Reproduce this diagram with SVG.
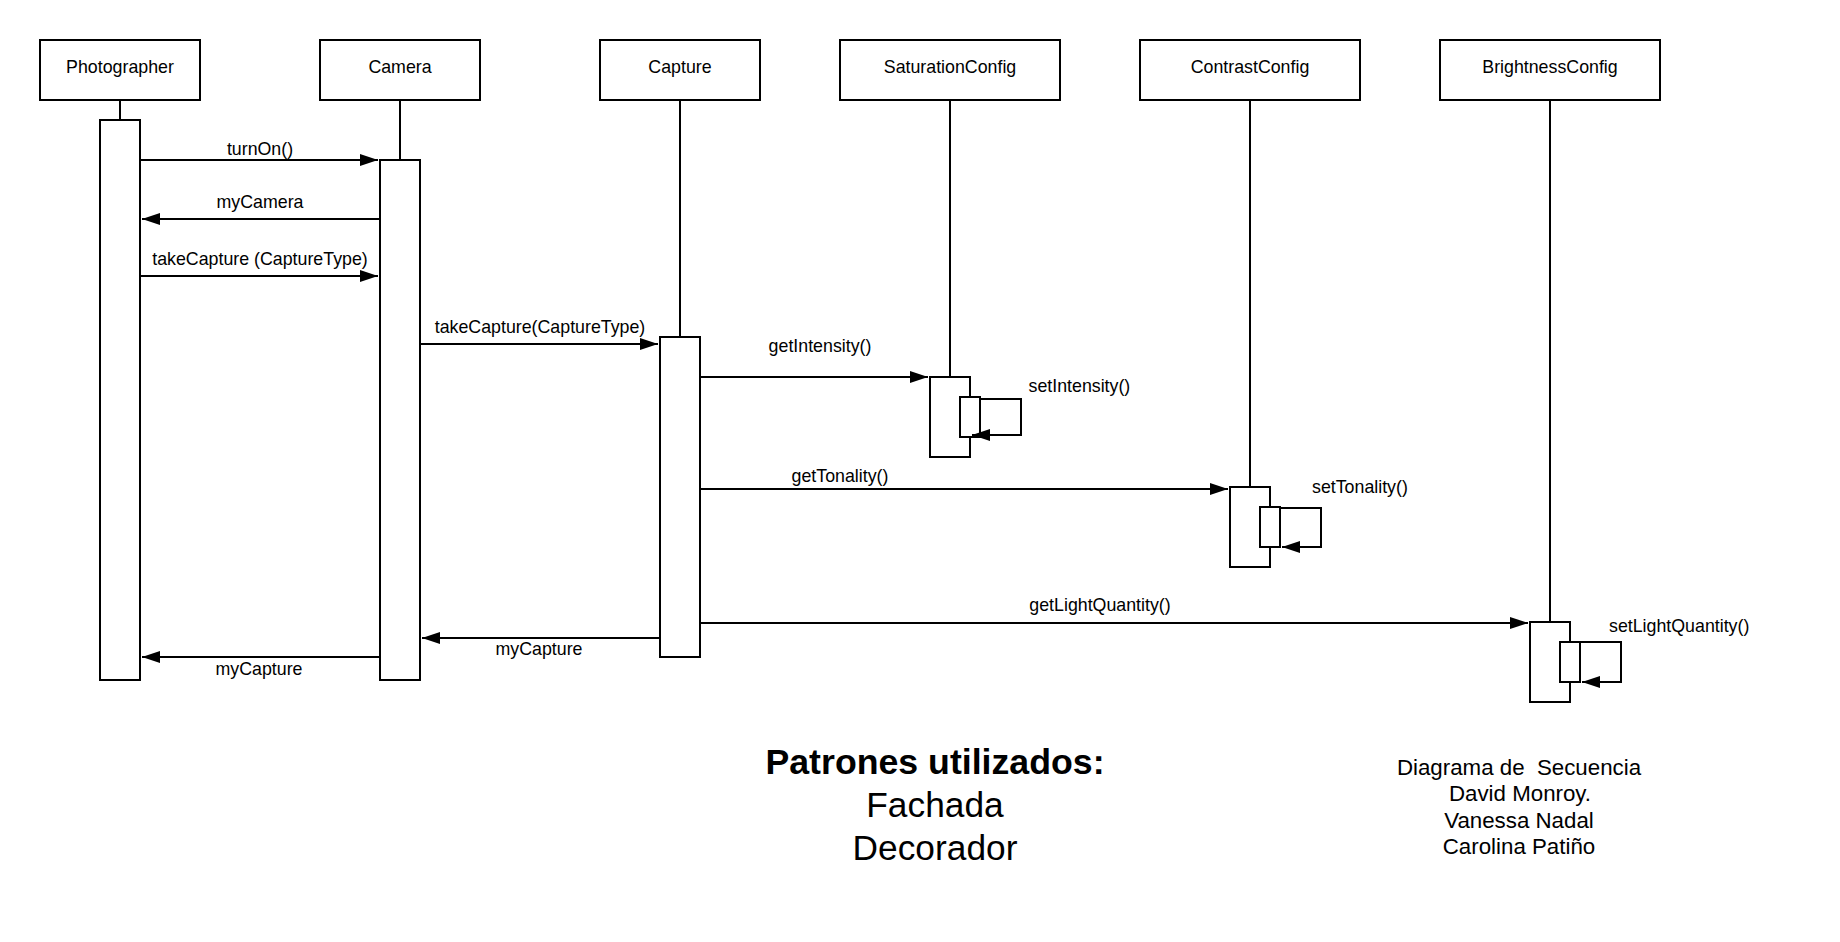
<svg xmlns="http://www.w3.org/2000/svg" width="1840" height="942" viewBox="0 0 1840 942">
<style>
.box{fill:#fff;stroke:#000;stroke-width:2}
.act{fill:#fff;stroke:#000;stroke-width:2}
.life{stroke:#000;stroke-width:2;fill:none}
.msg{stroke:#000;stroke-width:2;fill:none;marker-end:url(#arr)}
.t{font-family:"Liberation Sans",Arial,sans-serif;font-size:17.8px;fill:#000}
.c{text-anchor:middle}
.big{font-family:"Liberation Sans",Arial,sans-serif;font-size:35.3px;fill:#000;text-anchor:middle}
.info{font-family:"Liberation Sans",Arial,sans-serif;font-size:22.3px;fill:#000;text-anchor:middle}
</style>
<defs>
<marker id="arr" markerUnits="userSpaceOnUse" markerWidth="18" markerHeight="12" refX="18" refY="6" orient="auto">
<path d="M0,0 L18,6 L0,12 z" fill="#000"/>
</marker>
</defs>
<rect width="1840" height="942" fill="#fff"/>
<g id="photographer">
<rect class="box" x="40" y="40" width="160" height="60"/>
<text class="t c" x="120" y="72.5">Photographer</text>
<line class="life" x1="120" y1="100" x2="120" y2="120"/>
<rect class="act" x="100" y="120" width="40" height="560"/>
</g>
<g id="camera">
<rect class="box" x="320" y="40" width="160" height="60"/>
<text class="t c" x="400" y="72.5">Camera</text>
<line class="life" x1="400" y1="100" x2="400" y2="160"/>
<rect class="act" x="380" y="160" width="40" height="520"/>
</g>
<g id="capture">
<rect class="box" x="600" y="40" width="160" height="60"/>
<text class="t c" x="680" y="72.5">Capture</text>
<line class="life" x1="680" y1="100" x2="680" y2="337"/>
<rect class="act" x="660" y="337" width="40" height="320"/>
</g>
<g id="saturationconfig">
<rect class="box" x="840" y="40" width="220" height="60"/>
<text class="t c" x="950" y="72.5">SaturationConfig</text>
<line class="life" x1="950" y1="100" x2="950" y2="377"/>
<rect class="act" x="930" y="377" width="40" height="80"/>
<rect class="act" x="960" y="397" width="20" height="40"/>
</g>
<g id="contrastconfig">
<rect class="box" x="1140" y="40" width="220" height="60"/>
<text class="t c" x="1250" y="72.5">ContrastConfig</text>
<line class="life" x1="1250" y1="100" x2="1250" y2="487"/>
<rect class="act" x="1230" y="487" width="40" height="80"/>
<rect class="act" x="1260" y="507" width="20" height="40"/>
</g>
<g id="brightnessconfig">
<rect class="box" x="1440" y="40" width="220" height="60"/>
<text class="t c" x="1550" y="72.5">BrightnessConfig</text>
<line class="life" x1="1550" y1="100" x2="1550" y2="622"/>
<rect class="act" x="1530" y="622" width="40" height="80"/>
<rect class="act" x="1560" y="642" width="20" height="40"/>
</g>
<g id="connectors">
<path class="msg" d="M140,160 H378"/>
<text class="t c" x="260" y="154.5">turnOn()</text>
<path class="msg" d="M380,219 H142"/>
<text class="t c" x="260" y="207.5">myCamera</text>
<path class="msg" d="M140,276 H378"/>
<text class="t c" x="260" y="265">takeCapture (CaptureType)</text>
<path class="msg" d="M420,344 H658"/>
<text class="t c" x="540" y="333">takeCapture(CaptureType)</text>
<path class="msg" d="M700,377 H928"/>
<text class="t c" x="820" y="351.5">getIntensity()</text>
<path class="msg" d="M980,399 H1021 V435 H972"/>
<text class="t" x="1028.5" y="391.5">setIntensity()</text>
<path class="msg" d="M700,489 H1228"/>
<text class="t c" x="840" y="481.5">getTonality()</text>
<path class="msg" d="M1280,508 H1321 V547 H1282"/>
<text class="t" x="1312" y="492.5">setTonality()</text>
<path class="msg" d="M700,623 H1528"/>
<text class="t c" x="1100" y="611">getLightQuantity()</text>
<path class="msg" d="M1580,642 H1621 V682 H1582"/>
<text class="t" x="1609" y="631.5">setLightQuantity()</text>
<path class="msg" d="M660,638 H422"/>
<text class="t c" x="539" y="655">myCapture</text>
<path class="msg" d="M380,657 H142"/>
<text class="t c" x="259" y="675">myCapture</text>
</g>
<g id="patterns">
<text class="big" x="935" y="773.5" font-weight="bold" font-size="35.7px" style="font-size:35.7px">Patrones utilizados:</text>
<text class="big" x="935" y="817">Fachada</text>
<text class="big" x="935" y="860">Decorador</text>
</g>
<g id="credits">
<text class="info" x="1519" y="774.5" xml:space="preserve">Diagrama de  Secuencia</text>
<text class="info" x="1520" y="801">David Monroy.</text>
<text class="info" x="1519" y="827.5">Vanessa Nadal</text>
<text class="info" x="1519" y="853.5">Carolina Patiño</text>
</g>
</svg>
